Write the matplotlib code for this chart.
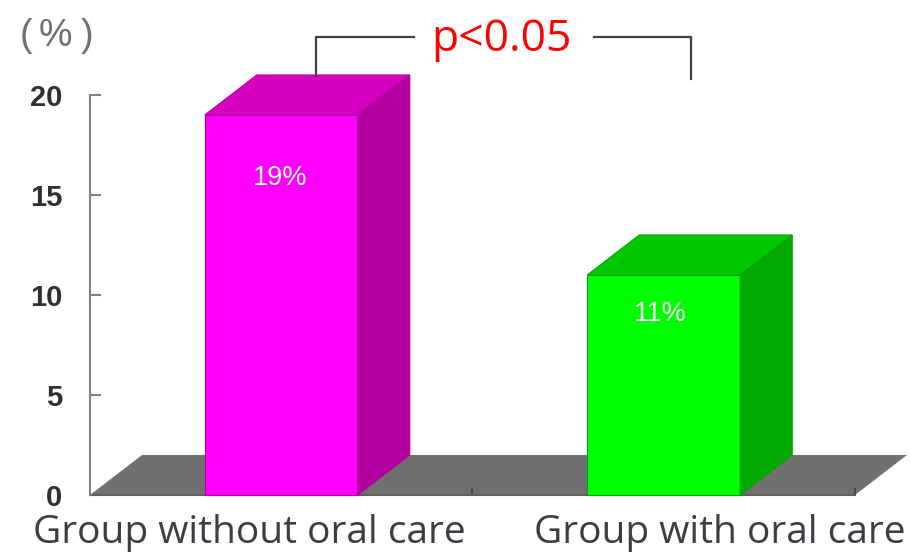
import matplotlib
matplotlib.use("Agg")
import matplotlib.pyplot as plt
from matplotlib.patches import Polygon

# incidence by group
groups = ["Group without oral care", "Group with oral care"]
rates = [19, 11]
rate_labels = ["19%", "11%"]
yticks = [0, 5, 10, 15, 20]
front_colors = ["#ff00ff", "#00ff00"]
top_colors = ["#d800c0", "#00c800"]
side_colors = ["#b400a0", "#00a800"]

W, H = 911, 552
fig = plt.figure(figsize=(W / 100, H / 100), dpi=100)
ax = fig.add_axes([90 / W, 1 - 495 / H, 765 / W, 400 / H])
ax.set_xlim(0, 2)
ax.set_ylim(0, 20)

# depth of the fake 3d box, in data units
dx = 52 / 382.5
dy = 2.0
bar_w = 0.4
centers = [0.5, 1.5]
label_drop = [3.15, 1.95]
label_shift = [-0.003, -0.01]
name_centers = [0.416, 1.647]


def poly(pts, color, z, edge="none"):
    ax.add_patch(Polygon(pts, closed=True, facecolor=color, edgecolor=edge,
                         linewidth=0.8, clip_on=False, zorder=z))


# floor
poly([(0, 0), (2, 0), (2 + dx, dy), (dx, dy)], "#707070", 1)

for i, (c, v) in enumerate(zip(centers, rates)):
    l, r = c - bar_w / 2, c + bar_w / 2
    front, top, side = front_colors[i], top_colors[i], side_colors[i]
    poly([(l, 0), (r, 0), (r, v), (l, v)], front, 3, edge=side)
    poly([(l, v), (r, v), (r + dx, v + dy), (l + dx, v + dy)], top, 3, edge=side)
    poly([(r, 0), (r + dx, dy), (r + dx, v + dy), (r, v)], side, 3, edge=side)
    ax.text(c + label_shift[i], v - label_drop[i], rate_labels[i], color="white",
            ha="center", va="center", fontsize=19.5, family="Liberation Sans", zorder=5)

for s in ["top", "right"]:
    ax.spines[s].set_visible(False)
ax.spines["left"].set_color("#808080")
ax.spines["left"].set_linewidth(1.5)
ax.spines["bottom"].set_color("#606060")
ax.spines["bottom"].set_linewidth(1.5)
ax.spines["bottom"].set_zorder(2)

ax.set_yticks(yticks)
ax.tick_params(axis="y", direction="in", length=8, width=1.5, color="#808080", pad=20)
for t in ax.get_yticklabels():
    t.set_fontsize(21)
    t.set_fontweight("bold")
    t.set_family("Liberation Sans")
    t.set_color("#303030")

ax.set_xticks([0, 1, 2])
ax.set_xticklabels([])
ax.tick_params(axis="x", direction="in", length=5, width=1.2, color="#404040")

# group names below the floor
for c, g in zip(name_centers, groups):
    ax.text(c, -1.92, g, ha="center", va="center", fontsize=28,
            family="Open Sans", color="#3c3c44", clip_on=False)

# unit label, spaced out by hand
for x, s in zip([-0.167, -0.0915, -0.008], ["(", "%", ")"]):
    ax.text(x, 22.95, s, ha="center", va="center", fontsize=27,
            family="Liberation Sans", color="#707070", clip_on=False)

# significance bracket
br_y = 22.9
ax.plot([0.59, 0.59, 0.848], [20.95, br_y, br_y], color="#404040", lw=1.6, clip_on=False, zorder=4)
ax.plot([1.317, 1.57, 1.57], [br_y, br_y, 20.8], color="#404040", lw=1.6, clip_on=False, zorder=4)
ax.text(1.0745, br_y - 0.12, "p<0.05", color="#ff0000", ha="center", va="center", fontsize=32,
        family="Open Sans", clip_on=False)

fig.savefig("out.png", dpi=100)
